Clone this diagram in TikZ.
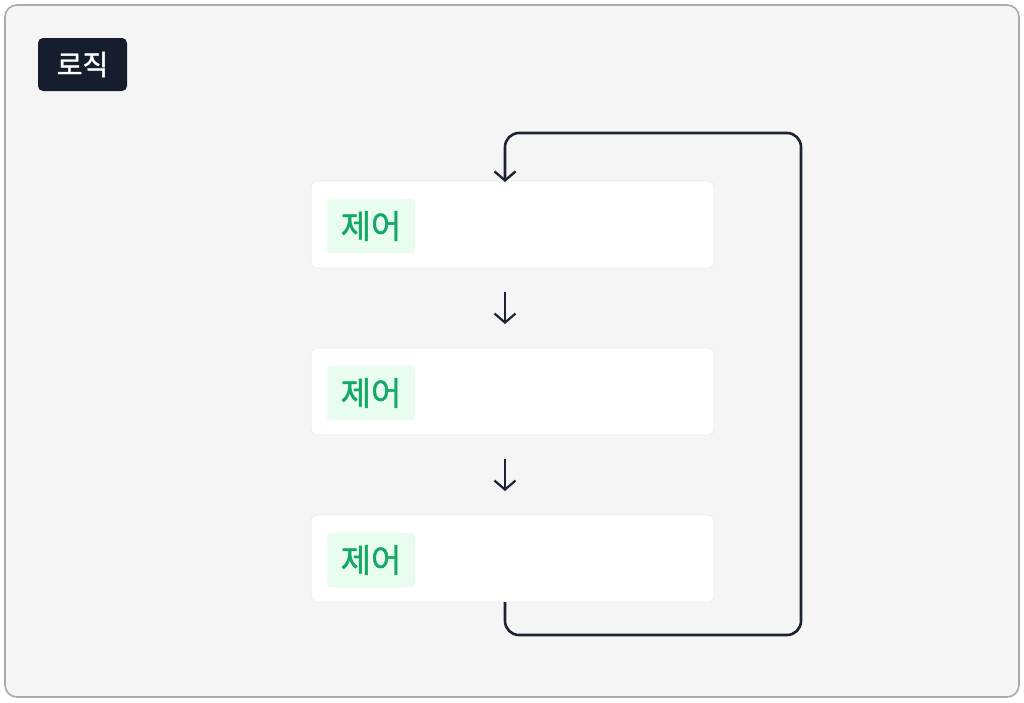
\documentclass[tikz,border=0pt]{standalone}
\usepackage{fontspec}
\newfontfamily\kr[FakeBold=1.3]{Noto Sans CJK KR}
\usetikzlibrary{arrows.meta}
\definecolor{frameBorder}{HTML}{AAAAAA}
\definecolor{frameFill}{HTML}{F5F5F5}
\definecolor{darkNavy}{HTML}{161E2E}
\definecolor{lineDark}{HTML}{1C2333}
\definecolor{tagFill}{HTML}{E8FCF0}
\definecolor{tagText}{HTML}{14A866}
\definecolor{boxBorder}{HTML}{EBEBEB}
\tikzset{
  stepbox/.style={draw=boxBorder, line width=0.8pt, fill=white, rounded corners=6pt, minimum width=403pt, minimum height=87pt, inner sep=0pt},
  tagbox/.style={fill=tagFill, rounded corners=3pt, minimum width=88pt, minimum height=54pt, inner sep=0pt, text=tagText, font=\kr\fontsize{33}{36}\selectfont},
  flow/.style={draw=lineDark, line width=2.2pt, -{Straight Barb[length=9pt,width=21pt,line width=2.2pt]}},
  loopline/.style={draw=lineDark, line width=2.6pt, rounded corners=14pt, -{Straight Barb[length=9pt,width=21pt,line width=2.4pt]}}
}
\begin{document}
\begin{tikzpicture}[x=1pt,y=-1pt]
\useasboundingbox (0,0) rectangle (1024,702);
\fill[white] (0,0) rectangle (1024,702);
\node[draw=frameBorder, line width=1.6pt, fill=frameFill, rounded corners=12pt, minimum width=1014pt, minimum height=692pt, inner sep=0pt] (frame) at (512,351) {};
\node[fill=darkNavy, rounded corners=5pt, minimum width=89pt, minimum height=53pt, inner sep=0pt, text=white, font=\kr\fontsize{28}{30}\selectfont] (title) at (82.5,64.5) {로직};
\node[stepbox] (b1) at (512.5,224.5) {};
\node[stepbox] (b2) at (512.5,391.5) {};
\node[stepbox] (b3) at (512.5,558.5) {};
\node[tagbox] (t1) at (371,226) {제어};
\node[tagbox] (t2) at (371,393) {제어};
\node[tagbox] (t3) at (371,560) {제어};
\coordinate (a1s) at (505,292);
\coordinate (a1e) at (505,324);
\coordinate (a2s) at (505,459);
\coordinate (a2e) at (505,491);
\draw[flow] (a1s) -- (a1e);
\draw[flow] (a2s) -- (a2e);
\coordinate (ls) at (505,602);
\coordinate (le) at (505,182);
\draw[loopline] (ls) -- (505,635) -- (801,635) -- (801,133) -- (505,133) -- (le);
\end{tikzpicture}
\end{document}
